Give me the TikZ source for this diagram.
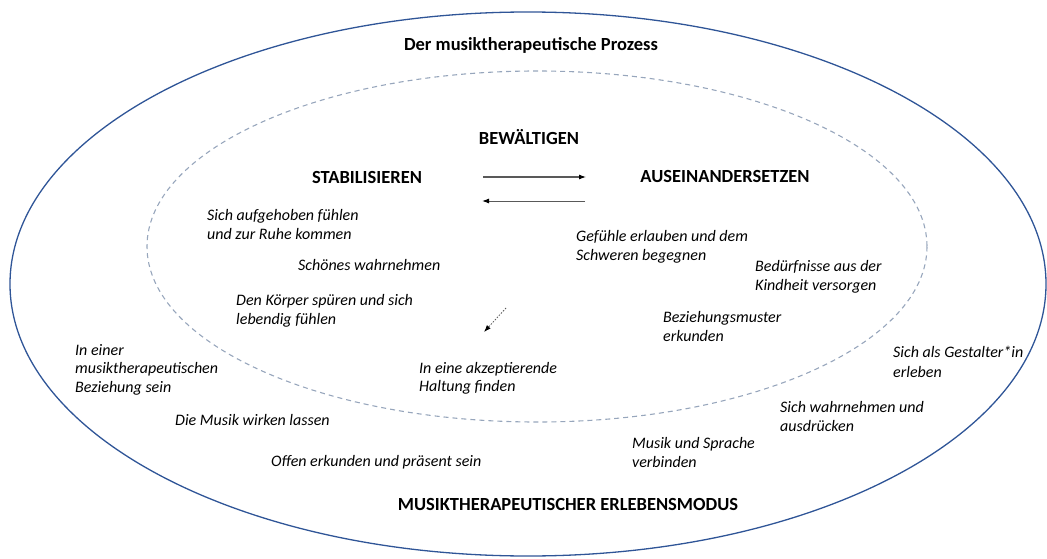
\documentclass[tikz,border=0pt]{standalone}
\usepackage{fontspec}
\setmainfont{Carlito}
\usetikzlibrary{arrows.meta}
\definecolor{outerblue}{HTML}{2F5597}
\definecolor{innergrey}{HTML}{97A6BC}
\definecolor{arrowgrey}{HTML}{595959}
\tikzset{
  head/.style={font=\bfseries\fontsize{18.5}{22}\selectfont, inner sep=0pt},
  item/.style={font=\itshape\fontsize{16}{19.5}\selectfont, align=left, anchor=north west, inner sep=0pt},
  flowarrow/.style={draw=arrowgrey, line width=1pt, -{Latex[length=7pt,width=5pt,color=black]}},
}
\begin{document}
\begin{tikzpicture}[x=1pt,y=-1pt]
\useasboundingbox (0,0) rectangle (1047,559);
% ellipses
\draw[outerblue, line width=1.3pt] (528,284) ellipse [x radius=518, y radius=272];
\draw[innergrey, line width=1.1pt, dash pattern=on 5pt off 4pt] (537,246.5) ellipse [x radius=390, y radius=175.5];
% headings
\node[head] (title) at (531,45) {Der musiktherapeutische Prozess};
\node[head] (bew) at (529,137) {BEWÄLTIGEN};
\node[head] (stab) at (367,177) {STABILISIEREN};
\node[head] (ausein) at (725,177) {AUSEINANDERSETZEN};
\node[head] (modus) at (568,504) {MUSIKTHERAPEUTISCHER ERLEBENSMODUS};
% arrows
\coordinate (r1) at (483,177);
\coordinate (r2) at (586,177);
\coordinate (l1) at (585,201);
\coordinate (l2) at (482,201);
\draw[flowarrow] (r1) -- (r2);
\draw[flowarrow] (l1) -- (l2);
\coordinate (d1) at (506,308);
\coordinate (d2) at (484,332);
\draw[draw=arrowgrey, line width=0.8pt, dash pattern=on 1.5pt off 1.5pt, -{Latex[length=7pt,width=5pt,color=black]}] (d1) -- (d2);
% items
\node[item] (a1) at (207,209) {Sich aufgehoben fühlen\\und zur Ruhe kommen};
\node[item] (a2) at (298,259) {Schönes wahrnehmen};
\node[item] (a3) at (236,294) {Den Körper spüren und sich\\lebendig fühlen};
\node[item] (b1) at (576,230) {Gefühle erlauben und dem\\Schweren begegnen};
\node[item] (b2) at (755,260) {Bedürfnisse aus der\\Kindheit versorgen};
\node[item] (b3) at (663,311) {Beziehungsmuster\\erkunden};
\node[item, font=\itshape\fontsize{16}{18.5}\selectfont] (c1) at (75,344) {In einer\\musiktherapeutischen\\Beziehung sein};
\node[item, font=\itshape\fontsize{16}{18.5}\selectfont] (c2) at (419,362) {In eine akzeptierende\\Haltung finden};
\node[item] (c3) at (175,414) {Die Musik wirken lassen};
\node[item] (c4) at (271,455) {Offen erkunden und präsent sein};
\node[item] (c5) at (893,346) {Sich als Gestalter*in\\erleben};
\node[item] (c6) at (780,401) {Sich wahrnehmen und\\ausdrücken};
\node[item] (c7) at (632,437) {Musik und Sprache\\verbinden};
\end{tikzpicture}
\end{document}
